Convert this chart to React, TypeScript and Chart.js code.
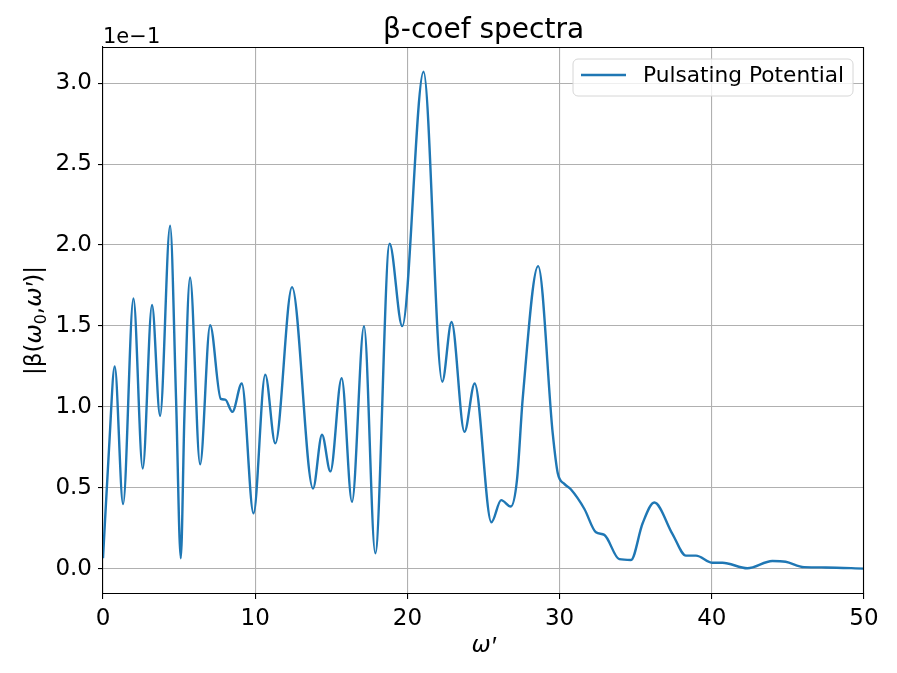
import React, { useEffect, useRef } from "react";
import { Chart, registerables } from "chart.js";

Chart.register(...registerables);

// ω' values (x) and |β(ω0,ω')| values in units of 1e-1 (y)
const omegaPrime: number[] = [
  0, 0.4, 0.77, 1.32, 2.0, 2.61, 3.22, 3.75, 4.41, 4.8, 5.11, 5.35, 5.72, 6.38, 7.04, 7.74, 8.03, 8.5, 9.12,
  9.89, 10.66, 11.32, 12.42, 13.8, 14.39, 14.94, 15.68, 16.36, 17.15, 17.89, 18.83, 19.66, 21.06,
  22.29, 22.9, 23.75, 24.42, 25.52, 26.16, 26.79, 27.2, 27.58, 28.59, 29.55, 29.88, 30.31, 30.75,
  31.63, 32.39, 32.94, 33.92, 34.69, 35.45, 36.22, 37.42, 38.3, 38.96, 40.05, 40.7, 42.34, 43.98,
  44.85, 46.06, 47.5, 50,
];
const betaE1: number[] = [
  0.066, 0.75, 1.25, 0.4, 1.67, 0.62, 1.63, 0.945, 2.12, 1.05, 0.066, 0.95, 1.8, 0.646, 1.505, 1.05, 1.045, 0.97, 1.145,
  0.343, 1.2, 0.775, 1.74, 0.496, 0.828, 0.602, 1.178, 0.414, 1.499, 0.097, 2.008, 1.499, 3.07,
  1.156, 1.525, 0.846, 1.145, 0.288, 0.425, 0.385, 0.55, 1.056, 1.87, 0.835, 0.59, 0.525, 0.49,
  0.37, 0.226, 0.21, 0.06, 0.055, 0.28, 0.41, 0.215, 0.082, 0.082, 0.038, 0.038, 0.004, 0.049,
  0.044, 0.011, 0.009, 0.002,
];
const xTicks: number[] = [0, 10, 20, 30, 40, 50];
const yTicks: number[] = [0, 0.5, 1.0, 1.5, 2.0, 2.5, 3.0];

const seriesLabel = "Pulsating Potential";
const titleText = "β-coef spectra";
const offsetText = "1e\u22121";
const FONT = '"DejaVu Sans", sans-serif';
const BLUE = "#1f77b4";

const decorations = {
  id: "decorations",
  afterDraw(chart: any) {
    const { ctx, chartArea: a } = chart;
    ctx.save();
    // top & right spines
    ctx.strokeStyle = "#000";
    ctx.lineWidth = 1.1;
    ctx.beginPath();
    ctx.moveTo(a.left, a.top + 0.5);
    ctx.lineTo(a.right - 0.5, a.top + 0.5);
    ctx.lineTo(a.right - 0.5, a.bottom);
    ctx.stroke();

    ctx.fillStyle = "#000";
    // title
    ctx.font = `28px ${FONT}`;
    ctx.textAlign = "center";
    ctx.textBaseline = "alphabetic";
    ctx.fillText(titleText, (a.left + a.right) / 2, 38);

    // offset text
    ctx.font = `21px ${FONT}`;
    ctx.textAlign = "left";
    ctx.fillText(offsetText, a.left, 43);

    const PRIME_FONT = `italic 26px "Liberation Sans", sans-serif`;
    // x label: ω′
    const cx = (a.left + a.right) / 2;
    ctx.font = `italic 23px ${FONT}`;
    const wOm = ctx.measureText("ω").width;
    ctx.font = PRIME_FONT;
    const wPr = ctx.measureText("\u2032").width;
    let x0 = cx - (wOm + wPr) / 2;
    ctx.font = `italic 23px ${FONT}`;
    ctx.fillText("ω", x0, 652);
    ctx.font = PRIME_FONT;
    ctx.fillText("\u2032", x0 + wOm, 655);

    // y label: |β(ω0,ω′)|
    const segs: { t: string; f: string; dy: number; dx: number }[] = [
      { t: "|β(", f: `23px ${FONT}`, dy: 0, dx: 0 },
      { t: "ω", f: `italic 23px ${FONT}`, dy: 0, dx: 0 },
      { t: "0", f: `16px ${FONT}`, dy: 5, dx: 0 },
      { t: ",", f: `23px ${FONT}`, dy: 0, dx: 0 },
      { t: "ω", f: `italic 23px ${FONT}`, dy: 0, dx: 0 },
      { t: "\u2032", f: PRIME_FONT, dy: 3, dx: 0 },
      { t: ")|", f: `23px ${FONT}`, dy: 0, dx: 0 },
    ];
    let total = 0;
    const widths = segs.map((s) => {
      ctx.font = s.f;
      const w = ctx.measureText(s.t).width + s.dx;
      total += w;
      return w;
    });
    ctx.translate(41, (a.top + a.bottom) / 2);
    ctx.rotate(-Math.PI / 2);
    let px = -total / 2;
    segs.forEach((s, i) => {
      ctx.font = s.f;
      ctx.fillText(s.t, px + s.dx, s.dy);
      px += widths[i];
    });
    ctx.setTransform(1, 0, 0, 1, 0, 0);

    // legend
    const lx = 573, ly = 59, lw = 280, lh = 37, r = 5;
    ctx.beginPath();
    ctx.moveTo(lx + r, ly);
    ctx.arcTo(lx + lw, ly, lx + lw, ly + lh, r);
    ctx.arcTo(lx + lw, ly + lh, lx, ly + lh, r);
    ctx.arcTo(lx, ly + lh, lx, ly, r);
    ctx.arcTo(lx, ly, lx + lw, ly, r);
    ctx.closePath();
    ctx.fillStyle = "rgba(255,255,255,0.8)";
    ctx.fill();
    ctx.strokeStyle = "#d6d6d6";
    ctx.lineWidth = 1;
    ctx.stroke();
    ctx.strokeStyle = BLUE;
    ctx.lineWidth = 2.4;
    ctx.beginPath();
    ctx.moveTo(581, 75);
    ctx.lineTo(626, 75);
    ctx.stroke();
    ctx.fillStyle = "#000";
    ctx.font = `21.7px ${FONT}`;
    ctx.textAlign = "left";
    ctx.textBaseline = "middle";
    ctx.fillText(seriesLabel, 643, 76);
    ctx.restore();
  },
};

export default function App() {
  const ref = useRef<HTMLCanvasElement | null>(null);
  useEffect(() => {
    if (!ref.current) return;
    const data = omegaPrime.map((x, i) => ({ x, y: betaE1[i] }));
    const chart = new Chart(ref.current, {
      type: "line",
      data: {
        datasets: [
          {
            label: seriesLabel,
            data,
            borderColor: BLUE,
            backgroundColor: BLUE,
            borderWidth: 2.4,
            pointRadius: 0,
            cubicInterpolationMode: "monotone",
            fill: false,
          },
        ],
      },
      options: {
        animation: false,
        responsive: false,
        devicePixelRatio: 1,
        layout: { padding: { left: 0, top: 47, right: 33, bottom: 0 } },
        plugins: { legend: { display: false }, title: { display: false }, tooltip: { enabled: false } },
        scales: {
          x: {
            type: "linear",
            min: 0,
            max: 50,
            afterFit: (s: any) => {
              s.height = 79;
            },
            afterBuildTicks: (s: any) => {
              s.ticks = xTicks.map((v) => ({ value: v }));
            },
            ticks: {
              color: "#000",
              font: { family: FONT, size: 23 },
              padding: 6,
              maxRotation: 0,
              callback: (v: any) => String(v),
            },
            grid: { color: "#b0b0b0", lineWidth: 1.1, tickColor: "#000", tickLength: 5, drawTicks: true },
            border: { color: "#000", width: 1.1 },
          },
          y: {
            type: "linear",
            min: -0.155,
            max: 3.223,
            afterFit: (s: any) => {
              s.width = 103;
            },
            afterBuildTicks: (s: any) => {
              s.ticks = yTicks.map((v) => ({ value: v }));
            },
            ticks: {
              color: "#000",
              font: { family: FONT, size: 23 },
              padding: 6,
              callback: (v: any) => Number(v).toFixed(1),
            },
            grid: { color: "#b0b0b0", lineWidth: 1.1, tickColor: "#000", tickLength: 5, drawTicks: true },
            border: { color: "#000", width: 1.1 },
          },
        },
      },
      plugins: [decorations],
    });
    return () => chart.destroy();
  }, []);
  return (
    <div style={{ position: "fixed", left: 0, top: 0, width: 897, height: 673, background: "#fff" }}>
      <canvas ref={ref} width={897} height={673} />
    </div>
  );
}
